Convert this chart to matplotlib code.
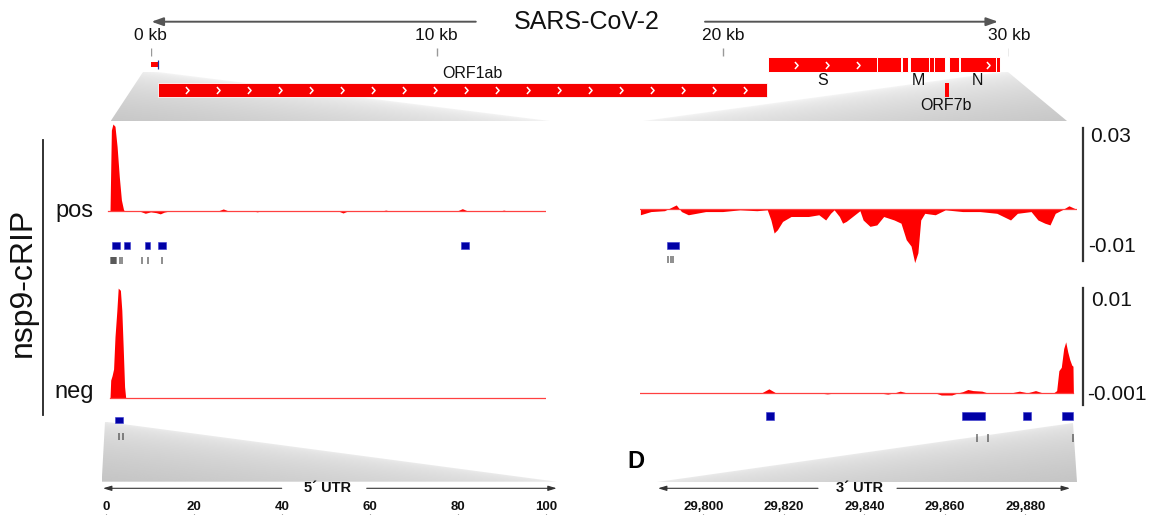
import numpy as np
import matplotlib
matplotlib.use('Agg')
import matplotlib.pyplot as plt
from matplotlib.patches import Polygon
from matplotlib.path import Path

plt.rcParams['font.family'] = ['Liberation Sans', 'DejaVu Sans']

# ---- genome map (kb) ----
kb_ticks = [0, 10, 20, 30]
top_genes = ['S', 'ORF3a', 'E', 'M', 'ORF6', 'ORF7a', 'ORF8', 'N', 'ORF10']
top_start = [21.563, 25.393, 26.245, 26.523, 27.202, 27.394, 27.894, 28.274, 29.558]
top_end = [25.384, 26.220, 26.472, 27.191, 27.387, 27.759, 28.259, 29.533, 29.674]
orf1ab = (0.266, 21.555)
orf7b = (27.756, 27.887)
utr5_kb = (0.0, 0.265)
gene_labels = ['ORF1ab', 'S', 'M', 'N', 'ORF7b']
label_kb = [11.26, 23.49, 26.85, 28.91, 27.81]

# ---- 5' UTR tracks (nt) ----
pos5_x = [0.5, 0.98, 1.29, 1.64, 2.11, 2.59, 3.09, 3.57, 4.07, 4.6, 7.6, 9.0, 10.2, 11.5,
          12.4, 13.3, 14.5, 25.5, 26.7, 27.9, 33.5, 34.4, 35.3, 52.8, 53.9, 55.0, 62.7,
          63.6, 64.5, 79.8, 81.0, 82.2, 89.6, 90.4, 91.2, 100.0]
pos5_y = [0, 0, 0.0279, 0.0300, 0.0292, 0.0222, 0.0118, 0.0038, 0.0003, 0, 0, -0.0008,
          -0.0003, -0.0006, -0.0010, -0.0004, 0, 0, 0.0007, 0, 0, -0.0003, 0, 0, -0.0007,
          0, 0, 0.0003, 0, 0, 0.0008, 0, 0, 0.0003, 0, 0]
neg5_x = [0.98, 1.14, 1.45, 1.79, 2.11, 2.52, 2.84, 3.34, 3.66, 3.97, 4.29, 4.54, 100.0]
neg5_y = [0, 0.0016, 0.0020, 0.0026, 0.0055, 0.0078, 0.0099, 0.0097, 0.0079, 0.0046,
          0.0010, 0, 0]
pos5_boxes = [(1.54, 3.34), (4.16, 5.52), (9.02, 10.06), (11.86, 13.70), (80.63, 82.51)]
pos5_sites = [1.2, 1.45, 1.7, 1.95, 2.2, 2.45, 3.3, 3.8, 8.2, 9.5, 12.9]
neg5_boxes = [(2.11, 4.0)]
neg5_sites = [3.1, 4.0]

# ---- 3' UTR tracks (nt) ----
pos3_x = [29784.4, 29787.0, 29790.4, 29793.3, 29794.6, 29796.3, 29800.6, 29804.8, 29809.1,
          29813.3, 29815.9, 29816.8, 29817.6, 29818.4, 29819.7, 29821.8, 29826.1, 29828.7,
          29830.4, 29831.6, 29832.5, 29833.8, 29834.6, 29835.5, 29838.9, 29839.7, 29841.4,
          29843.1, 29844.8, 29847.4, 29849.1, 29850.4, 29851.6, 29852.5, 29853.3, 29854.0,
          29855.0, 29857.6, 29860.1, 29864.4, 29868.7, 29872.9, 29876.3, 29878.0, 29881.4,
          29883.1, 29884.8, 29886.1, 29887.4, 29889.1, 29890.8, 29892.5]
pos3_y = [-0.0020, -0.0009, -0.0006, 0.0014, -0.0009, -0.0020, -0.0009, -0.0009, -0.0003,
          -0.0006, -0.0003, -0.0038, -0.0083, -0.0072, -0.0043, -0.0026, -0.0026, -0.0020,
          -0.0038, -0.0015, -0.0003, -0.0026, -0.0049, -0.0043, -0.0006, -0.0038, -0.0060,
          -0.0055, -0.0026, -0.0038, -0.0049, -0.0106, -0.0128, -0.0185, -0.0151, -0.0038,
          -0.0015, -0.0020, -0.0003, -0.0009, -0.0009, -0.0015, -0.0038, -0.0015, -0.0009,
          -0.0038, -0.0049, -0.0055, -0.0015, -0.0003, 0.0011, 0]
neg3_x = [29783.6, 29814.5, 29816.3, 29818.0, 29828.5, 29830.8, 29833.0, 29843.5, 29845.8,
          29847.5, 29848.9, 29850.5, 29857.5, 29859.1, 29861.7, 29863.3, 29864.4, 29865.7,
          29867.0, 29869.2, 29870.5, 29876.5, 29878.5, 29880.5, 29882.5, 29884.2, 29887.0,
          29887.75, 29888.3, 29888.9, 29889.5, 29890.0, 29890.5, 29891.0, 29891.5, 29891.8,
          29891.9]
neg3_y = [0, 0, 0.00036, 0, 0, -0.0001, 0, 0, -0.00012, 0, 0.00015, 0, 0, -0.0002, -0.0002,
          0, 0.0001, 0.0003, 0.0002, 0.00015, 0, 0, 0.00015, 0, 0.0002, 0, 0, 0.0002, 0.0020,
          0.0023, 0.0040, 0.0046, 0.0037, 0.0030, 0.0025, 0.0024, 0]
pos3_boxes = [(29791.0, 29793.9)]
pos3_sites = [29791.2, 29791.9, 29792.6]
neg3_boxes = [(29815.6, 29817.6), (29864.2, 29870.0), (29879.4, 29881.4), (29889.1, 29891.9)]
neg3_sites = [29867.9, 29870.7, 29891.7]

pos_scale = ['0.03', '-0.01']
neg_scale = ['0.01', '-0.001']
ruler5_ticks = [0, 20, 40, 60, 80, 100]
ruler3_ticks = [29800, 29820, 29840, 29860, 29880]

W, H = 1157, 515
RED = '#ff0000'
BLUE = '#0000a6'
fig = plt.figure(figsize=(W / 100, H / 100), dpi=100)


def px_axes(x0, y0, x1, y1, z=2):
    ax = fig.add_axes([x0 / W, 1 - y1 / H, (x1 - x0) / W, (y1 - y0) / H])
    ax.set_zorder(z)
    ax.axis('off')
    return ax


def wedge(ax, pts, light_edge, dark=0.78, light=0.97):
    poly = Polygon(pts, closed=True, fc='none', ec='none')
    ax.add_patch(poly)
    xs = [p[0] for p in pts]
    ys = [p[1] for p in pts]
    x0, x1, y0, y1 = min(xs), max(xs), min(ys), max(ys)
    X, Y = np.meshgrid(np.linspace(x0, x1, 400), np.linspace(y0, y1, 150))
    (ax_, ay), (bx, by) = light_edge
    n = np.hypot(bx - ax_, by - ay)
    dist = lambda px, py: np.abs((by - ay) * (px - ax_) - (bx - ax_) * (py - ay)) / n
    dmax = max(dist(p[0], p[1]) for p in pts)
    t = np.clip(dist(X, Y) / dmax, 0, 1)
    img = light - (light - dark) * np.sqrt(t)
    im = ax.imshow(img, cmap='gray', vmin=0, vmax=1, extent=(x0, x1, y1, y0),
                   origin='upper', aspect='auto', interpolation='bilinear')
    im.set_clip_path(poly)


# background overlay in pixel units
bg = px_axes(0, 0, W, H, z=0)
wedge(bg, [(143, 72), (158, 72), (550, 121), (110.7, 121)], [(158, 72), (550, 121)])
wedge(bg, [(1001, 72), (1008, 72), (1067, 121), (643, 121)], [(1001, 72), (643, 121)])
wedge(bg, [(105, 421.7), (101.7, 481.7), (556.7, 481.7)], [(105, 421.7), (556.7, 481.7)],
      dark=0.77, light=0.93)
wedge(bg, [(1073, 423), (1077, 482), (657, 482)], [(1073, 423), (657, 482)],
      dark=0.77, light=0.93)
bg.set_xlim(0, W)
bg.set_ylim(H, 0)

bg.text(587, 22, 'SARS-CoV-2', fontsize=18, ha='center', va='center', color='#111')
arrow = dict(arrowstyle='-|>,head_length=0.7,head_width=0.25', color='#555', lw=1.4,
             shrinkA=0, shrinkB=0)
bg.annotate('', xy=(151.5, 21.7), xytext=(475.8, 21.7), arrowprops=arrow)
bg.annotate('', xy=(998, 21.7), xytext=(705, 21.7), arrowprops=arrow)

bg.text(22.5, 282, 'nsp9-cRIP', fontsize=23, rotation=90, ha='center', va='center',
        color='#111')
bg.plot([42.7, 42.7], [140, 415], color='#222', lw=1.3)
bg.text(55, 217, 'pos', fontsize=17, ha='left', va='baseline', color='#111')
bg.text(54, 398, 'neg', fontsize=17, ha='left', va='baseline', color='#111')
bg.text(636, 462, 'D', fontsize=17, fontweight='bold', ha='center', va='center')

# scale bars
bg.plot([1083, 1083], [128, 261], color='#333', lw=1.6)
bg.plot([1082.5, 1082.5], [288, 405], color='#333', lw=1.6)
bg.text(1090, 137, pos_scale[0], fontsize=15, ha='left', va='center', color='#111')
bg.text(1088, 247, pos_scale[1], fontsize=15, ha='left', va='center', color='#111')
bg.text(1091, 300, neg_scale[0], fontsize=15, ha='left', va='center', color='#111')
bg.text(1087, 395, neg_scale[1], fontsize=15, ha='left', va='center', color='#111')

# rulers with region names
small = dict(arrowstyle='-|>,head_length=0.5,head_width=0.15', color='#333', lw=0.8,
             shrinkA=0, shrinkB=0)
bg.annotate('', xy=(103, 488.3), xytext=(281.7, 488.3), arrowprops=small)
bg.annotate('', xy=(556.7, 488.3), xytext=(366.7, 488.3), arrowprops=small)
bg.text(327.3, 488.3, '5\u00b4 UTR', fontsize=10.5, fontweight='bold', ha='center',
        va='center', color='#111')
bg.annotate('', xy=(658, 488.3), xytext=(818, 488.3), arrowprops=small)
bg.annotate('', xy=(1070, 488.3), xytext=(897, 488.3), arrowprops=small)
bg.text(860, 488.3, '3\u00b4 UTR', fontsize=10.5, fontweight='bold', ha='center',
        va='center', color='#111')

# genome map
gm = px_axes(150.7, 0, 1009, H, z=2)
gm.set_xlim(0, 30)
gm.set_ylim(H, 0)
gm.vlines(kb_ticks, 48, 56, color='#999', lw=1)
for k in kb_ticks:
    gm.text(k, 35, f'{k} kb', fontsize=12.5, ha='center', va='center', color='#111')
gm.barh(64.5, utr5_kb[1] - utr5_kb[0], left=utr5_kb[0], height=5.6, color=RED, lw=0)
gm.vlines(utr5_kb[1], 60, 69, color='#2030a0', lw=0.9)
gm.barh(89.7, orf1ab[1] - orf1ab[0], left=orf1ab[0], height=14, color='#f60000',
        edgecolor='white', lw=0.6)
gm.barh([64.5] * len(top_start), np.subtract(top_end, top_start), left=top_start,
        height=14.4, color=RED, edgecolor='white', lw=0.7)
gm.barh(89.7, orf7b[1] - orf7b[0], left=orf7b[0], height=14, color=RED, lw=0)

chev = Path([(-0.45, -1), (0.45, 0), (-0.45, 1)], [Path.MOVETO, Path.LINETO, Path.LINETO])
for s, e, y in [(orf1ab[0], orf1ab[1], 89.7)] + [(s, e, 64.5) for s, e in zip(top_start, top_end)]:
    xs = np.arange(s + 1.0, e - 0.2, 1.083)
    if len(xs):
        gm.plot(xs, [y] * len(xs), ls='none', marker=chev, ms=5, mfc='none', mec='white',
                mew=1.1)
label_y = [73, 80.7, 80.7, 80.7, 105]
for name, k, y in zip(gene_labels, label_kb, label_y):
    gm.text(k, y, name, fontsize=11.5, ha='center', va='center', color='#111')


def track(x0, x1, y0, y1, xlim, ylim, xs, ys):
    ax = px_axes(x0, y0, x1, y1, z=3)
    ax.set_xlim(xlim)
    ax.set_ylim(ylim)
    ax.fill_between(xs, 0, ys, color=RED, lw=0)
    ax.plot([xs[0], xs[-1]], [0, 0], color='#ff4040', lw=0.9)
    return ax


L_LIM = (0, 100)
R_LIM = (29784.3, 29892.8)
track(105.7, 546, 124, 264.6, L_LIM, (-0.0185, 0.03), pos5_x, pos5_y)
track(640, 1077, 122, 262.6, R_LIM, (-0.0185, 0.03), pos3_x, pos3_y)
track(105.7, 546, 287, 410, L_LIM, (-0.0011, 0.01), neg5_x, neg5_y)
track(640, 1077, 282, 405, R_LIM, (-0.0011, 0.01), neg3_x, neg3_y)


def marks(x0, x1, xlim, rows):
    ax = px_axes(x0, 0, x1, H, z=3)
    ax.set_xlim(xlim)
    ax.set_ylim(H, 0)
    for boxes, by, bh, sites, sy0, sy1 in rows:
        ax.barh([by] * len(boxes), [b - a for a, b in boxes], left=[a for a, b in boxes],
                height=bh, color=BLUE, edgecolor='#3a3ad0', lw=0.4)
        ax.vlines(sites, sy0, sy1, color='#222', lw=1.3, alpha=0.55)


marks(105.7, 546, L_LIM, [(pos5_boxes, 245.7, 6.7, pos5_sites, 256.7, 264),
                          (neg5_boxes, 420, 6.6, neg5_sites, 433, 439.5)])
marks(640, 1077, R_LIM, [(pos3_boxes, 245.3, 7, pos3_sites, 256, 263),
                         (neg3_boxes, 416, 8, neg3_sites, 434, 442)])


def ruler(x0, x1, xlim, ticks, labels):
    ax = fig.add_axes([x0 / W, 1 - 515 / H, (x1 - x0) / W, 1 / H])
    ax.set_zorder(3)
    ax.patch.set_alpha(0)
    for sp in ax.spines.values():
        sp.set_visible(False)
    ax.set_xlim(xlim)
    ax.set_yticks([])
    ax.set_xticks(ticks)
    ax.set_xticklabels(labels, fontsize=9.5, fontweight='bold', color='#111')
    ax.tick_params(axis='x', top=True, bottom=False, labeltop=True, labelbottom=False,
                   direction='in', length=4, width=0.8, color='#555', pad=1.0)


ruler(105.7, 546, L_LIM, ruler5_ticks, [str(t) for t in ruler5_ticks])
ruler(640, 1077, R_LIM, ruler3_ticks, [f'{t:,}' for t in ruler3_ticks])

fig.savefig('out.png', dpi=100)
